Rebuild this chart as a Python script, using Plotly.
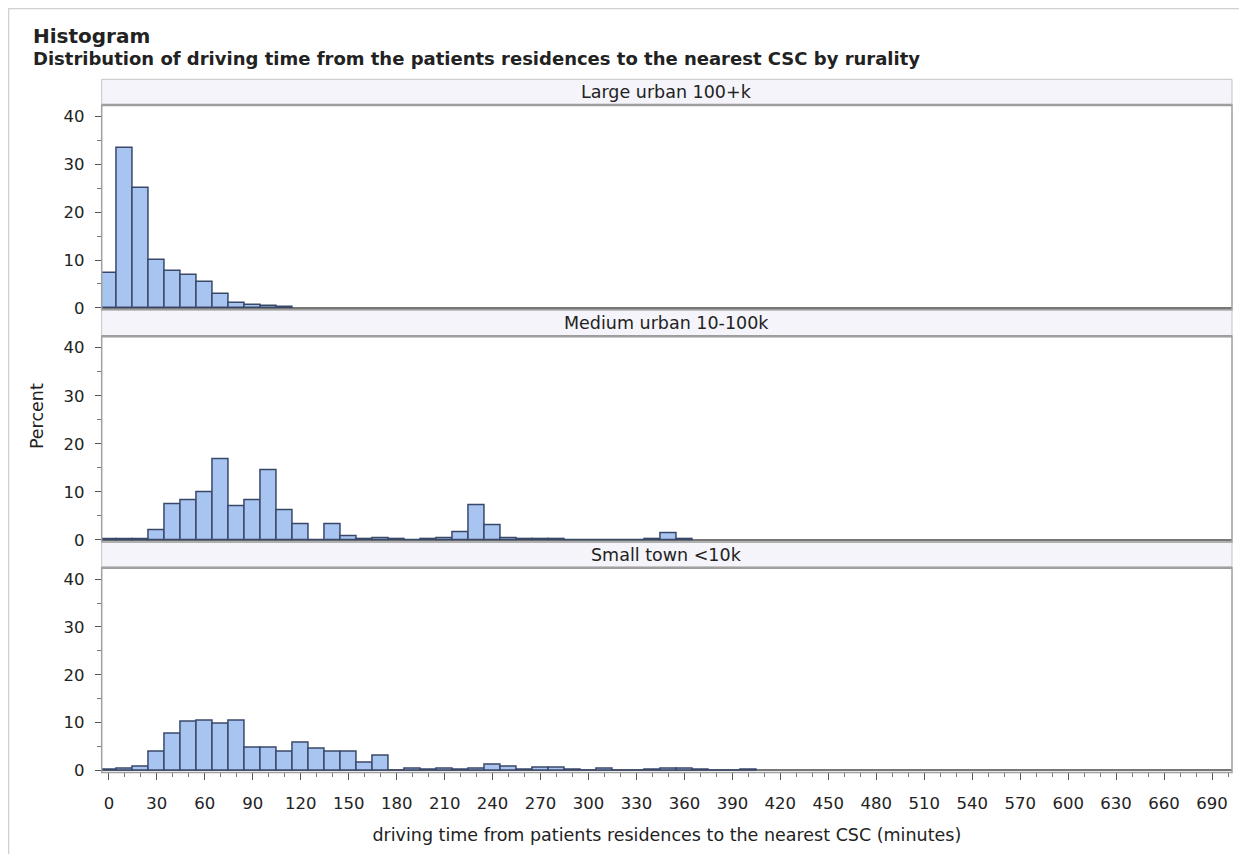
import plotly.graph_objects as go

# ---- data (percent per 10-minute bin, bins centred on the listed minutes) ----
panel_names = ["Large urban 100+k", "Medium urban 10-100k", "Small town <10k"]

large_centers = [0, 10, 20, 30, 40, 50, 60, 70, 80, 90, 100, 110]
large_pct = [7.2, 33.4, 25.0, 10.0, 7.6, 6.9, 5.4, 2.8, 1.0, 0.6, 0.3, 0.1]

medium_centers = [0, 10, 20, 30, 40, 50, 60, 70, 80, 90, 100, 110, 120, 130, 140, 150,
                  160, 170, 180, 190, 200, 210, 220, 230, 240, 250, 260, 270, 280, 290,
                  300, 310, 320, 330, 340, 350, 360]
medium_pct = [0.1, 0.2, 0.2, 2.0, 7.4, 8.2, 10.0, 16.9, 7.0, 8.3, 14.5, 6.3, 3.3, 0.0, 3.2, 0.8,
              0.1, 0.3, 0.1, 0.0, 0.1, 0.4, 1.7, 7.2, 3.0, 0.3, 0.1, 0.1, 0.1, 0.05,
              0.0, 0.0, 0.0, 0.0, 0.2, 1.5, 0.2]

small_centers = [0, 10, 20, 30, 40, 50, 60, 70, 80, 90, 100, 110, 120, 130, 140, 150,
                 160, 170, 180, 190, 200, 210, 220, 230, 240, 250, 260, 270, 280, 290,
                 300, 310, 320, 330, 340, 350, 360, 370, 380, 390, 400]
small_pct = [0.1, 0.35, 0.9, 3.9, 7.7, 10.2, 10.4, 9.8, 10.4, 4.8, 4.8, 3.9, 5.9, 4.6, 3.9, 3.9,
             1.7, 3.0, 0.0, 0.4, 0.2, 0.35, 0.15, 0.3, 1.3, 0.7, 0.2, 0.5, 0.5, 0.15,
             0.0, 0.35, 0.0, 0.0, 0.15, 0.4, 0.3, 0.1, 0.0, 0.05, 0.1]

bin_width = 10
x_tick_vals = list(range(0, 691, 30))
y_tick_vals = [0, 10, 20, 30, 40]

# page has an 8px body margin; figure sized to fit the 1247x862 window
OFF = 8
W, H = 1231, 846
FONT = "DejaVu Sans"
TXT = "#222222"
FILL = "rgb(168,196,240)"
EDGE = "rgb(58,72,104)"
BORDER = "#a0a0a0"

def px(v):
    return (v - OFF) / W

def py(v):
    return 1 - (v - OFF) / H

x_dom = [px(101.7), px(1232)]
panels_px = [(106, 312.7), (339.3, 547), (573, 779.7)]
strips_px = [(80, 106), (312.7, 339.3), (547, 573)]

fig = go.Figure()
series = [(large_centers, large_pct), (medium_centers, medium_pct), (small_centers, small_pct)]
for i, (cx, cy) in enumerate(series):
    ya = "y" if i == 0 else f"y{i+1}"
    fig.add_trace(go.Bar(
        x=cx, y=cy, width=bin_width, xaxis="x", yaxis=ya,
        marker=dict(color=FILL, line=dict(color=EDGE, width=1.5)),
        showlegend=False, hoverinfo="x+y"))

yaxis_common = dict(
    range=[-0.4, 42.4], tickvals=y_tick_vals, ticks="outside", ticklen=6,
    tickcolor="#555", showgrid=False, showline=False, ticklabelstandoff=7,
    zeroline=True, zerolinecolor="#777", zerolinewidth=1.5,
    tickfont=dict(family=FONT, size=16.5, color=TXT),
    minor=dict(ticks="outside", dtick=5, ticklen=4, tickcolor="#777", showgrid=False),
    anchor="x",
)

layout = dict(
    width=W, height=H, margin=dict(l=0, r=0, t=0, b=0),
    paper_bgcolor="white", plot_bgcolor="white", bargap=0,
    xaxis=dict(domain=x_dom, range=[-4.5, 702.5], tickvals=x_tick_vals, ticks="outside",
               ticklen=7, tickcolor="#555", showgrid=False, zeroline=False, showline=False,
               anchor="y3", tickfont=dict(family=FONT, size=16.5, color=TXT),
               ticklabelstandoff=9,
               minor=dict(ticks="outside", dtick=10, ticklen=4, tickcolor="#777", showgrid=False),
               title=dict(text="driving time from patients residences to the nearest CSC (minutes)",
                          font=dict(family=FONT, size=17.5, color=TXT), standoff=16)),
)
for i, (top, bot) in enumerate(panels_px):
    key = "yaxis" if i == 0 else f"yaxis{i+1}"
    d = dict(yaxis_common)
    d["domain"] = [py(bot), py(top)]
    layout[key] = d
fig.update_layout(**layout)

shapes = []
annotations = []
# outer frame
shapes.append(dict(type="rect", xref="paper", yref="paper", x0=px(8.5), x1=px(1270), y0=py(900), y1=py(8.5),
                   line=dict(color="#d0d0d0", width=1.5), fillcolor="rgba(0,0,0,0)", layer="below"))
for (top, bot), (st, sb), name in zip(panels_px, strips_px, panel_names):
    shapes.append(dict(type="rect", xref="paper", yref="paper", x0=x_dom[0], x1=x_dom[1],
                       y0=py(sb), y1=py(st), fillcolor="#f4f4fa",
                       line=dict(color="#c4c4c4", width=1), layer="below"))
    shapes.append(dict(type="line", xref="paper", yref="paper", x0=x_dom[0], x1=x_dom[1],
                       y0=py(sb), y1=py(sb), line=dict(color="#9a9a9a", width=2.5)))
    shapes.append(dict(type="rect", xref="paper", yref="paper", x0=x_dom[0], x1=x_dom[1],
                       y0=py(bot), y1=py(top), fillcolor="rgba(0,0,0,0)",
                       line=dict(color=BORDER, width=1.5)))
    annotations.append(dict(text=name, xref="paper", yref="paper", x=(x_dom[0] + x_dom[1]) / 2,
                            y=py((st + sb) / 2), showarrow=False, xanchor="center", yanchor="middle",
                            font=dict(family=FONT, size=17.5, color=TXT)))

annotations.append(dict(text="<b>Histogram</b>", xref="paper", yref="paper", x=px(31), y=py(36),
                        showarrow=False, xanchor="left", yanchor="middle",
                        font=dict(family=FONT, size=20, color=TXT)))
annotations.append(dict(text="<b>Distribution of driving time from the patients residences to the nearest CSC by rurality</b>",
                        xref="paper", yref="paper", x=px(31), y=py(59), showarrow=False,
                        xanchor="left", yanchor="middle", font=dict(family=FONT, size=18, color=TXT)))
annotations.append(dict(text="Percent", xref="paper", yref="paper", x=px(37), y=py(420),
                        showarrow=False, textangle=-90, xanchor="center", yanchor="middle",
                        font=dict(family=FONT, size=17.5, color=TXT)))
fig.update_layout(shapes=shapes, annotations=annotations)

fig.write_html("out.html")
